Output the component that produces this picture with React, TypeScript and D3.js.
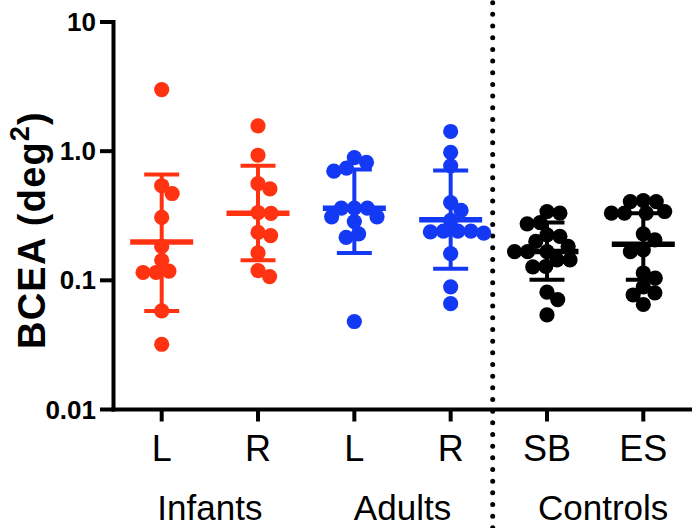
import { scaleLog, scalePoint } from "d3";
import { useMemo } from "react";

// categories and their groups
const CATS = ["Infants L", "Infants R", "Adults L", "Adults R", "SB", "ES"];
const TICK_LABELS = ["L", "R", "L", "R", "SB", "ES"];
const GROUPS = [
  { name: "Infants", from: 0, to: 1, dx: 0 },
  { name: "Adults", from: 2, to: 3, dx: 0 },
  { name: "Controls", from: 4, to: 5, dx: 8 },
];
const COLORS = ["#FF3311", "#FF3311", "#1439F5", "#1439F5", "#000", "#000"];

// BCEA values (deg²)
const infantsL = [3.0, 0.54, 0.47, 0.307, 0.183, 0.143, 0.118, 0.115, 0.115, 0.058, 0.032];
const infantsR = [1.57, 0.93, 0.56, 0.51, 0.335, 0.33, 0.235, 0.222, 0.163, 0.119, 0.107];
const adultsL = [0.89, 0.82, 0.74, 0.7, 0.362, 0.362, 0.362, 0.31, 0.31, 0.285, 0.229, 0.215, 0.048];
const adultsR = [1.42, 0.98, 0.77, 0.4, 0.348, 0.291, 0.24, 0.24, 0.24, 0.237, 0.232, 0.161, 0.089, 0.066];
const controlsSB = [0.341, 0.331, 0.28, 0.274, 0.225, 0.219, 0.2, 0.183, 0.167, 0.167, 0.167, 0.144, 0.144, 0.128, 0.127, 0.081, 0.071, 0.054];
const controlsES = [0.415, 0.407, 0.407, 0.341, 0.331, 0.331, 0.331, 0.229, 0.206, 0.172, 0.167, 0.114, 0.104, 0.089, 0.08, 0.077, 0.065];
const SERIES = [infantsL, infantsR, adultsL, adultsR, controlsSB, controlsES];

// centre line and error bar ends
const CENTER = [0.198, 0.331, 0.362, 0.294, 0.167, 0.19];
const LOW = [0.058, 0.143, 0.163, 0.123, 0.101, 0.101];
const HIGH = [0.66, 0.77, 0.72, 0.71, 0.28, 0.33];

const Y_TICKS = [0.01, 0.1, 1, 10];
const Y_TICK_LABELS = ["0.01", "0.1", "1.0", "10"];

const FONT = "'Liberation Sans', Arial, Helvetica, sans-serif";
const R = 7.6, D = 13;

function swarm(ys: number[]) {
  // greedy beeswarm: offsets in px from the category centre
  const order = ys.map((y, i) => i).sort((a, b) => ys[a] - ys[b]);
  const placed: { x: number; y: number }[] = [];
  const out: number[] = new Array(ys.length).fill(0);
  order.forEach(i => {
    const y = ys[i];
    const cands = [0];
    placed.forEach(p => {
      const dy = Math.abs(p.y - y);
      if (dy < D) { const dx = Math.sqrt(D * D - dy * dy); cands.push(p.x + dx + 0.01, p.x - dx - 0.01); }
    });
    const ok = cands.filter(c => placed.every(p => (p.x - c) ** 2 + (p.y - y) ** 2 >= D * D - 0.5));
    ok.sort((a, b) => Math.abs(a) - Math.abs(b));
    const x = ok[0] ?? 0;
    placed.push({ x, y });
    out[i] = x;
  });
  return out;
}

export default function App() {
  const W = 692, H = 528;
  const y = scaleLog().domain([0.01, 10]).range([409.5, 22]);
  const x = scalePoint<string>().domain(CATS).range([161.7, 643.3]);
  const axisX = 113.5;
  const offsets = useMemo(() => SERIES.map(s => swarm(s.map(v => y(v)))), []);
  return (
    <svg width={W} height={H} viewBox={`0 0 ${W} ${H}`}
      style={{ position: "absolute", left: 0, top: 0, background: "#fff" }} fontFamily={FONT}>
      {/* axes */}
      <line x1={axisX} x2={axisX} y1={y(10) - 2} y2={y(0.01) + 2} stroke="#000" strokeWidth={4} />
      <line x1={axisX - 2} x2={W} y1={y(0.01)} y2={y(0.01)} stroke="#000" strokeWidth={4} />
      {Y_TICKS.map((t, i) => (
        <g key={t} transform={`translate(0,${y(t)})`}>
          <line x1={100} x2={axisX} stroke="#000" strokeWidth={4} />
          <text x={96} textAnchor="end" dominantBaseline="central" fontSize={26} fontWeight="bold">{Y_TICK_LABELS[i]}</text>
        </g>
      ))}
      {CATS.map((c, i) => (
        <g key={c} transform={`translate(${x(c)},0)`}>
          <line y1={y(0.01)} y2={y(0.01) + 12} stroke="#000" strokeWidth={4} />
          <text y={461} textAnchor="middle" fontSize={36}>{TICK_LABELS[i]}</text>
        </g>
      ))}
      {GROUPS.map(g => (
        <text key={g.name} x={((x(CATS[g.from]) ?? 0) + (x(CATS[g.to]) ?? 0)) / 2 + g.dx} y={520}
          textAnchor="middle" fontSize={35}>{g.name}</text>
      ))}
      <text transform={`translate(45,230) rotate(-90)`} textAnchor="middle" fontSize={38} fontWeight="bold" letterSpacing={1.2}>
        BCEA (deg<tspan fontSize={27} dy={-16}>2</tspan><tspan dy={16}>)</tspan>
      </text>
      {/* dotted separator */}
      <line x1={492.7} x2={492.7} y1={2.7} y2={H} stroke="#000" strokeWidth={5}
        strokeLinecap="round" strokeDasharray="0 11.67" />
      {/* points and bars */}
      {CATS.map((c, i) => {
        const cx = x(c) ?? 0;
        const col = COLORS[i];
        return (
          <g key={c}>
            {SERIES[i].map((v, j) => (
              <circle key={j} cx={cx + offsets[i][j]} cy={y(v)} r={R} fill={col} />
            ))}
            <line x1={cx} x2={cx} y1={y(HIGH[i])} y2={y(LOW[i])} stroke={col} strokeWidth={4} />
            <line x1={cx - 17.5} x2={cx + 17.5} y1={y(HIGH[i])} y2={y(HIGH[i])} stroke={col} strokeWidth={4} />
            <line x1={cx - 17.5} x2={cx + 17.5} y1={y(LOW[i])} y2={y(LOW[i])} stroke={col} strokeWidth={4} />
            <line x1={cx - 31.5} x2={cx + 31.5} y1={y(CENTER[i])} y2={y(CENTER[i])} stroke={col} strokeWidth={5.5} />
          </g>
        );
      })}
    </svg>
  );
}
